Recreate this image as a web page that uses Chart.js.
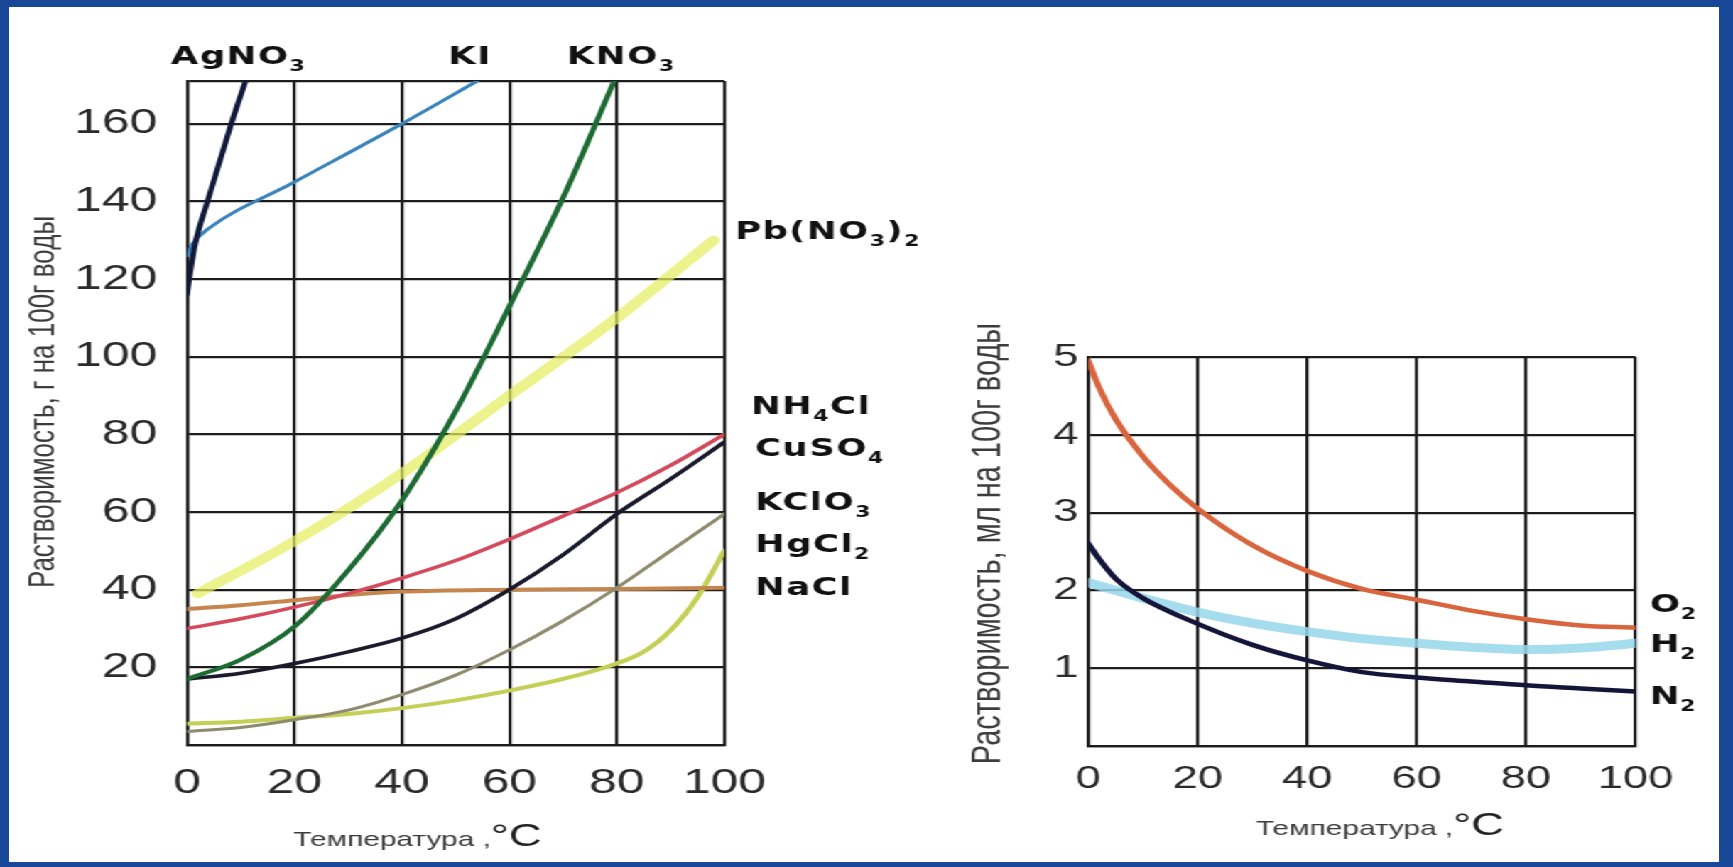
<!DOCTYPE html>
<html>
<head>
<meta charset="utf-8">
<script src="https://cdn.jsdelivr.net/npm/chart.js"></script>
<style>
html,body{margin:0;padding:0;width:1733px;height:867px;overflow:hidden;background:#184897;}
#panel{position:absolute;left:9px;top:7px;width:1710px;height:855px;background:#ffffff;}
#wrap{position:absolute;left:0;top:0;width:1220px;height:867px;transform:scaleX(1.42049);transform-origin:0 0;}
canvas{position:absolute;left:0;top:0;}
</style>
</head>
<body>
<div id="panel"></div>
<div id="wrap">
<canvas id="c1" width="1220" height="867"></canvas>
<canvas id="c2" width="1220" height="867"></canvas>
</div>
<script>
// ---------------- DATA ----------------
// shared temperature axis (°C)
const tempTicks = [0, 20, 40, 60, 80, 100];
// left chart: solubility, g per 100 g water
const leftYTicks = [20, 40, 60, 80, 100, 120, 140, 160];
const leftYMax = 171;

const tAgNO3 = [0, 0.5, 1.5, 3.8, 8, 11];
const vAgNO3 = [116, 121, 129, 140, 159, 171.5];

const tKI = [0, 1, 4, 20, 40, 54];
const vKI = [126, 129, 133, 145, 160, 171];

const tKNO3 = [0, 10, 20, 30, 40, 50, 60, 70, 79.5];
const vKNO3 = [17, 22, 30.5, 45, 63, 86, 113, 141, 171];

const tPb = [2, 20, 40, 60, 80, 98];
const vPb = [39, 52.5, 70, 90, 110, 130];

const tNH4Cl = [0, 10, 20, 30, 40, 50, 60, 70, 80, 90, 100];
const vNH4Cl = [30, 32.5, 35.5, 39, 43, 47.5, 53, 59, 65, 72, 80];

const tCuSO4 = [0, 10, 20, 30, 40, 50, 60, 70, 80, 90, 100];
const vCuSO4 = [17, 18.5, 21, 24, 27.5, 32.5, 40, 49, 59.5, 68.5, 78];

const tHgCl2 = [0, 10, 20, 30, 40, 50, 60, 70, 80, 90, 100];
const vHgCl2 = [3.5, 4.5, 6.5, 9, 13, 18, 24.5, 32, 40.5, 50, 59.5];

const tKClO3 = [0, 10, 20, 30, 40, 50, 60, 70, 80, 85, 90, 95, 100];
const vKClO3 = [5.5, 6, 7, 8, 9.5, 11.5, 14, 17, 21, 24, 29.5, 38, 50];

const tNaCl = [0, 10, 20, 30, 40, 60, 80, 100];
const vNaCl = [35, 36, 37.3, 38.6, 39.5, 40, 40.2, 40.5];

// right chart: solubility of gases, ml per 100 g water
const rightYTicks = [1, 2, 3, 4, 5];
const rightYMax = 5;

const tO2 = [0, 2, 5, 10, 15, 20, 30, 40, 50, 60, 70, 80, 90, 100];
const vO2 = [4.95, 4.6, 4.2, 3.72, 3.35, 3.05, 2.58, 2.25, 2.02, 1.88, 1.74, 1.63, 1.55, 1.52];

const tH2 = [0, 10, 20, 30, 40, 50, 60, 70, 80, 90, 100];
const vH2 = [2.1, 1.9, 1.72, 1.58, 1.47, 1.38, 1.32, 1.27, 1.24, 1.26, 1.32];

const tN2 = [0, 2, 5, 10, 20, 30, 40, 50, 60, 70, 80, 90, 100];
const vN2 = [2.6, 2.4, 2.15, 1.9, 1.57, 1.3, 1.1, 0.95, 0.88, 0.83, 0.78, 0.74, 0.7];

// curve labels: [text, isSubscript]
const leftTopNames = [[['AgNO', 0], ['3', 1]], [['KI', 0]], [['KNO', 0], ['3', 1]]];
const leftTopAtT = [-3, 48.6, 70.7];
const leftSideNames = [
  [['Pb(NO', 0], ['3', 1], [')', 0], ['2', 1]],
  [['NH', 0], ['4', 1], ['Cl', 0]],
  [['CuSO', 0], ['4', 1]],
  [['KClO', 0], ['3', 1]],
  [['HgCl', 0], ['2', 1]],
  [['NaCl', 0]]
];
const leftSideAtV = [132, 87, 76, 62.3, 51.3, 40.2];
const rightSideNames = [[['O', 0], ['2', 1]], [['H', 0], ['2', 1]], [['N', 0], ['2', 1]]];
const rightSideAtV = [1.8, 1.29, 0.62];

const leftYTitle = 'Растворимость, г на 100г воды';
const rightYTitle = 'Растворимость, мл на 100г воды';
const xTitleText = 'Температура ,';
const xTitleUnit = '°C';

// ---------------- STYLE / HELPERS ----------------
const SANS = '"Liberation Sans", Arial, Helvetica, sans-serif';
const BOLD = '"DejaVu Sans", "Liberation Sans", sans-serif';
const GRID = '#1c1c1c';
const TICK = '#2a2a2a';
const TITLE = '#3c3c3c';

function pts(t, v) { return t.map((x, i) => ({ x: x, y: v[i] })); }
function line(label, t, v, color, width) {
  return {
    label: label, data: pts(t, v), borderColor: color, borderWidth: width,
    pointRadius: 0, pointHoverRadius: 0, cubicInterpolationMode: 'monotone',
    fill: false, borderCapStyle: 'round', borderJoinStyle: 'round'
  };
}
function axisX(fontSize, pad) {
  return {
    type: 'linear', min: 0, max: 100,
    afterBuildTicks: s => { s.ticks = tempTicks.map(v => ({ value: v })); },
    ticks: { font: { family: SANS, size: fontSize }, color: TICK, padding: pad, maxRotation: 0, autoSkip: false, callback: v => String(v) },
    grid: { color: GRID, lineWidth: 2.2, drawTicks: false },
    border: { color: GRID, width: 2.2 },
    afterFit: s => { s.height = 60; s.paddingLeft = 0; s.paddingRight = 0; }
  };
}
function axisY(max, tickVals, fontSize, pad, width) {
  return {
    type: 'linear', min: 0, max: max,
    afterBuildTicks: s => { s.ticks = [...new Set([0, ...tickVals, max])].map(v => ({ value: v })); },
    ticks: { font: { family: SANS, size: fontSize }, color: TICK, padding: pad, autoSkip: false, callback: v => tickVals.includes(v) ? String(v) : '' },
    grid: { color: GRID, lineWidth: 2.2, drawTicks: false },
    border: { color: GRID, width: 2.2 },
    afterFit: s => { s.width = width; s.paddingTop = 0; s.paddingBottom = 0; }
  };
}
function drawParts(ctx, parts, x, y, size, spacing, align) {
  ctx.save();
  ctx.fillStyle = '#111';
  ctx.textBaseline = 'middle';
  ctx.textAlign = 'left';
  try { ctx.letterSpacing = spacing + 'px'; } catch (e) {}
  let total = 0;
  const widths = parts.map(p => {
    ctx.font = 'bold ' + (p[1] ? size * 0.62 : size) + 'px ' + BOLD;
    const w = ctx.measureText(p[0]).width; total += w; return w;
  });
  let cx = align === 'center' ? x - total / 2 : x;
  parts.forEach((p, i) => {
    ctx.font = 'bold ' + (p[1] ? size * 0.62 : size) + 'px ' + BOLD;
    ctx.fillText(p[0], cx, p[1] ? y + size * 0.38 : y);
    cx += widths[i];
  });
  ctx.restore();
}
function drawYTitle(ctx, text, x, y, size) {
  ctx.save();
  ctx.translate(x, y);
  ctx.rotate(-Math.PI / 2);
  ctx.fillStyle = TITLE;
  ctx.font = size + 'px ' + SANS;
  ctx.textAlign = 'center';
  ctx.textBaseline = 'middle';
  ctx.fillText(text, 0, 0);
  ctx.restore();
}
function drawXTitle(ctx, cx, baseline, size, unitSize) {
  ctx.save();
  ctx.fillStyle = TITLE;
  ctx.textBaseline = 'alphabetic';
  ctx.font = size + 'px ' + SANS;
  const w1 = ctx.measureText(xTitleText).width;
  ctx.font = unitSize + 'px ' + SANS;
  const w2 = ctx.measureText(xTitleUnit).width;
  let x = cx - (w1 + w2) / 2;
  ctx.font = size + 'px ' + SANS;
  ctx.textAlign = 'left';
  ctx.fillText(xTitleText, x, baseline);
  ctx.fillStyle = '#222';
  ctx.font = unitSize + 'px ' + SANS;
  ctx.fillText(xTitleUnit, x + w1, baseline);
  ctx.restore();
}

// ---------------- LEFT CHART ----------------
const leftLabels = {
  id: 'leftLabels',
  afterDraw(chart) {
    const ctx = chart.ctx, a = chart.chartArea, xs = chart.scales.x, ys = chart.scales.y;
    leftTopNames.forEach((n, i) => drawParts(ctx, n, xs.getPixelForValue(leftTopAtT[i]), a.top - 24, 25, 1, 'left'));
    const off = [7.5, 18.8, 21.6, 21.6, 21.6, 21.6];
    leftSideNames.forEach((n, i) => drawParts(ctx, n, a.right + off[i], ys.getPixelForValue(leftSideAtV[i]), 25, 1, 'left'));
    drawYTitle(ctx, leftYTitle, 31, (a.top + a.bottom) / 2 - 11, 26);
    drawXTitle(ctx, 294, a.bottom + 101, 21, 32);
  }
};

new Chart(document.getElementById('c1'), {
  type: 'line',
  data: {
    datasets: [
      line('AgNO3', tAgNO3, vAgNO3, '#111a3a', 4),
      line('KNO3', tKNO3, vKNO3, '#1d6b33', 4),
      line('CuSO4', tCuSO4, vCuSO4, '#1a1a2c', 3.5),
      line('KI', tKI, vKI, '#3a84bc', 3),
      line('NH4Cl', tNH4Cl, vNH4Cl, '#d44a5c', 3.5),
      line('HgCl2', tHgCl2, vHgCl2, '#8e8b6e', 3),
      line('NaCl', tNaCl, vNaCl, '#c4864e', 4),
      line('KClO3', tKClO3, vKClO3, '#c3cf55', 4),
      line('Pb(NO3)2', tPb, vPb, 'rgba(228,238,95,0.72)', 9)
    ]
  },
  options: {
    responsive: false, animation: false, events: [],
    layout: { padding: { left: 0, top: 81, right: 710.1, bottom: 62 } },
    plugins: { legend: { display: false }, tooltip: { enabled: false } },
    scales: { x: axisX(35, 17), y: axisY(leftYMax, leftYTicks, 35, 21, 131.7) }
  },
  plugins: [leftLabels]
});

// ---------------- RIGHT CHART ----------------
const rightLabels = {
  id: 'rightLabels',
  afterDraw(chart) {
    const ctx = chart.ctx, a = chart.chartArea, ys = chart.scales.y;
    rightSideNames.forEach((n, i) => drawParts(ctx, n, a.right + 10, ys.getPixelForValue(rightSideAtV[i]), 25, 0.5, 'left'));
    drawYTitle(ctx, rightYTitle, 695.5, (a.top + a.bottom) / 2 - 8, 29);
    drawXTitle(ctx, 971.6, a.bottom + 89, 21, 32);
  }
};

new Chart(document.getElementById('c2'), {
  type: 'line',
  data: {
    datasets: [
      line('N2', tN2, vN2, '#15153a', 4.5),
      line('O2', tO2, vO2, '#d9653e', 4.5),
      line('H2', tH2, vH2, 'rgba(150,215,235,0.85)', 9)
    ]
  },
  options: {
    responsive: false, animation: false, events: [],
    layout: { padding: { left: 0, top: 357, right: 68.6, bottom: 61 } },
    plugins: { legend: { display: false }, tooltip: { enabled: false } },
    scales: { x: axisX(32, 14), y: axisY(rightYMax, rightYTicks, 32, 7, 766.2) }
  },
  plugins: [rightLabels]
});
</script>
</body>
</html>
